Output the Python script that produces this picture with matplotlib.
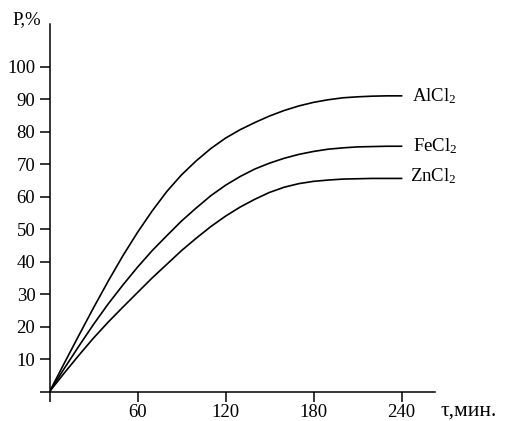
import matplotlib
matplotlib.use("Agg")
import matplotlib.pyplot as plt

plt.rcParams["font.family"] = ["Liberation Serif", "DejaVu Serif"]
plt.rcParams["mathtext.fontset"] = "custom"
plt.rcParams["mathtext.rm"] = "Liberation Serif"
plt.rcParams["mathtext.it"] = "Liberation Serif"

# time, minutes
time_min = [0, 10, 20, 30, 40, 50, 60, 70, 80, 90, 100, 110, 120,
            130, 140, 150, 160, 170, 180, 190, 200, 210, 220, 230, 240]

# degree of conversion P, %
alcl2 = [0, 8.7, 17.3, 25.8, 34.0, 41.8, 49.0, 55.6, 61.6, 66.7, 71.0, 74.8, 78.0,
         80.6, 82.8, 84.8, 86.5, 87.9, 89.0, 89.8, 90.4, 90.7, 90.9, 91.0, 91.0]
fecl2 = [0, 7.1, 14.0, 20.7, 27.0, 32.8, 38.3, 43.4, 48.0, 52.5, 56.5, 60.3, 63.5,
         66.2, 68.5, 70.3, 71.8, 73.0, 73.9, 74.6, 75.0, 75.3, 75.4, 75.5, 75.5]
zncl2 = [0, 5.7, 11.2, 16.5, 21.4, 26.0, 30.5, 35.0, 39.2, 43.4, 47.2, 50.8, 54.0,
         56.8, 59.2, 61.3, 62.9, 64.0, 64.7, 65.1, 65.4, 65.5, 65.6, 65.6, 65.6]

series = [("AlCl$_2$", alcl2, 247, 91.0), ("FeCl$_2$", fecl2, 248, 75.6), ("ZnCl$_2$", zncl2, 246, 66.2)]

x_ticks = [0, 60, 120, 180, 240]
x_tick_labels = ["", "60", "120", "180", "240"]
y_ticks = [0, 10, 20, 30, 40, 50, 60, 70, 80, 90, 100]
y_tick_labels = [""] + [str(v) for v in y_ticks[1:]]

FS = 13.5

fig = plt.figure(figsize=(5.05, 4.21), dpi=100)
ax = fig.add_axes([49.5 / 505, 29.3 / 421, (435 - 49.5) / 505, (391.7 - 24) / 421])

for name, vals, lx, ly in series:
    ax.plot(time_min, vals, color="black", linewidth=1.2)
    ax.text(lx, ly, name, fontsize=FS, va="center", ha="left")

ax.set_xlim(0, 262.8)
ax.set_ylim(0, 113.1)
ax.spines["top"].set_visible(False)
ax.spines["right"].set_visible(False)
for side in ("left", "bottom"):
    ax.spines[side].set_linewidth(1.1)
ax.set_xticks(x_ticks)
ax.set_xticklabels(x_tick_labels)
ax.set_yticks(y_ticks)
ax.set_yticklabels(y_tick_labels)
ax.tick_params(direction="out", length=7.2, width=1.1, labelsize=FS)
ax.tick_params(axis="x", pad=1.5)
ax.tick_params(axis="y", pad=3)

fig.text(12 / 505, 1 - 20 / 421, "P,%", fontsize=FS, va="center", ha="left")
fig.text(440 / 505, 1 - 411 / 421, "τ,мин.", fontsize=15.5, va="center", ha="left")

fig.savefig("out.png", dpi=100)
